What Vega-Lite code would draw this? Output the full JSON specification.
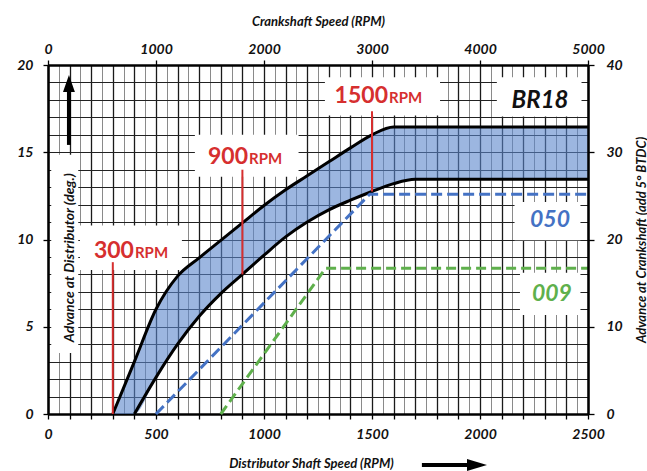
{
  "$schema": "https://vega.github.io/schema/vega-lite/v6.json",
  "width": 540,
  "height": 349,
  "autosize": {"type": "none"},
  "padding": {"left": 48, "top": 65, "right": 59, "bottom": 57},
  "background": "white",
  "config": {"font": "Lato", "view": {"stroke": null}},
  "datasets": {
    "band": [
      {"rpm": 300, "hi": 0, "lo": 0},
      {"rpm": 400, "hi": 3.0, "lo": 0},
      {"rpm": 500, "hi": 6.0, "lo": 2.1},
      {"rpm": 600, "hi": 7.9, "lo": 4.0},
      {"rpm": 700, "hi": 8.95, "lo": 5.6},
      {"rpm": 800, "hi": 9.95, "lo": 6.9},
      {"rpm": 900, "hi": 10.95, "lo": 8.0},
      {"rpm": 1000, "hi": 11.95, "lo": 9.1},
      {"rpm": 1100, "hi": 12.85, "lo": 10.15},
      {"rpm": 1200, "hi": 13.65, "lo": 11.0},
      {"rpm": 1300, "hi": 14.45, "lo": 11.7},
      {"rpm": 1400, "hi": 15.25, "lo": 12.25},
      {"rpm": 1500, "hi": 16.0, "lo": 12.75},
      {"rpm": 1600, "hi": 16.45, "lo": 13.2},
      {"rpm": 1700, "hi": 16.45, "lo": 13.45},
      {"rpm": 2500, "hi": 16.45, "lo": 13.45}
    ],
    "blue": [
      {"rpm": 500, "adv": 0},
      {"rpm": 1490, "adv": 12.6},
      {"rpm": 2500, "adv": 12.6}
    ],
    "green": [
      {"rpm": 800, "adv": 0},
      {"rpm": 1285, "adv": 8.35},
      {"rpm": 2500, "adv": 8.35}
    ],
    "redlines": [
      {"rpm": 300, "from": 0, "to": 8.7},
      {"rpm": 900, "from": 8.0, "to": 14.0},
      {"rpm": 1500, "from": 12.75, "to": 17.35}
    ],
    "boxes": [
      {"name": "ytitle", "x1": 15, "x2": 140, "y1": 3.5, "y2": 14.85},
      {"name": "300", "x1": 148, "x2": 620, "y1": 8.25, "y2": 10.8},
      {"name": "900", "x1": 680, "x2": 1160, "y1": 13.6, "y2": 16.0},
      {"name": "1500", "x1": 1282, "x2": 1815, "y1": 17.1, "y2": 19.3},
      {"name": "BR18", "x1": 2078, "x2": 2470, "y1": 17.05, "y2": 19.3},
      {"name": "050", "x1": 2160, "x2": 2465, "y1": 9.95, "y2": 12.15},
      {"name": "009", "x1": 2185, "x2": 2465, "y1": 5.67, "y2": 8.1}
    ],
    "rpmlabels": [
      {"rpm": 398, "adv": 8.94, "num": "300"},
      {"rpm": 926, "adv": 14.3, "num": "900"},
      {"rpm": 1574, "adv": 17.8, "num": "1500"}
    ]
  },
  "layer": [
    {
      "encoding": {
        "x": {
          "type": "quantitative",
          "scale": {"domain": [0, 2500], "nice": false, "zero": false},
          "axis": {
            "orient": "bottom",
            "values": [0,50,100,150,200,250,300,350,400,450,500,550,600,650,700,750,800,850,900,950,1000,1050,1100,1150,1200,1250,1300,1350,1400,1450,1500,1550,1600,1650,1700,1750,1800,1850,1900,1950,2000,2050,2100,2150,2200,2250,2300,2350,2400,2450,2500],
            "format": "d",
            "grid": true,
            "gridColor": {"condition": {"test": "datum.value % 100 === 0", "value": "#1a1a1a"}, "value": "#8a8a8a"},
            "gridWidth": {"condition": {"test": "datum.value % 100 === 0", "value": 1.3}, "value": 1},
            "gridOpacity": 1,
            "ticks": true,
            "tickOpacity": {"condition": {"test": "datum.value % 100 === 0", "value": 1}, "value": 0},
            "tickColor": "black",
            "tickSize": 5,
            "tickWidth": 1.3,
            "labelExpr": "datum.value % 500 === 0 ? datum.label : ''",
            "labelFont": "Lato",
            "labelFontSize": 14,
            "labelFontStyle": "italic",
            "labelFontWeight": "bold",
            "labelColor": "#111",
            "labelPadding": 8,
            "labelFlush": false,
            "labelOverlap": false,
            "labelBound": false,
            "domain": true,
            "domainColor": "black",
            "domainWidth": 2.5,
            "title": "Distributor Shaft Speed (RPM)",
            "titleFont": "Lato",
            "titleFontSize": 13,
            "titleFontStyle": "italic",
            "titleFontWeight": "bold",
            "titleColor": "#111",
            "titleX": 263,
            "titleAlign": "center",
            "titlePadding": 16
          }
        },
        "y": {
          "type": "quantitative",
          "scale": {"domain": [0, 20], "nice": false, "zero": false},
          "axis": {
            "orient": "left",
            "values": [0,1,2,3,4,5,6,7,8,9,10,11,12,13,14,15,16,17,18,19,20],
            "grid": true,
            "gridColor": "#222222",
            "gridWidth": 1.2,
            "gridOpacity": 1,
            "ticks": true,
            "tickOpacity": {"condition": {"test": "datum.value % 5 === 0", "value": 1}, "value": 0},
            "tickColor": "black",
            "tickSize": 5,
            "tickWidth": 1.3,
            "labelExpr": "datum.value % 5 === 0 ? datum.label : ''",
            "labelFont": "Lato",
            "labelFontSize": 14,
            "labelFontStyle": "italic",
            "labelFontWeight": "bold",
            "labelColor": "#111",
            "labelPadding": 10,
            "labelFlush": false,
            "labelOverlap": false,
            "labelBound": false,
            "domain": true,
            "domainColor": "black",
            "domainWidth": 2.5,
            "title": null
          }
        }
      },
      "layer": [
        {
          "data": {"name": "boxes"},
          "mark": {"type": "rect", "fill": "white", "stroke": null},
          "encoding": {
            "x": {"field": "x1"},
            "x2": {"field": "x2"},
            "y": {"field": "y1"},
            "y2": {"field": "y2"}
          }
        },
        {
          "data": {"name": "band"},
          "mark": {"type": "area", "color": "#5a86cc", "opacity": 0.6, "interpolate": "monotone"},
          "encoding": {
            "x": {"field": "rpm"},
            "y": {"field": "lo"},
            "y2": {"field": "hi"}
          }
        },
        {
          "data": {"name": "band"},
          "mark": {"type": "line", "color": "black", "strokeWidth": 3, "interpolate": "monotone"},
          "encoding": {
            "x": {"field": "rpm"},
            "y": {"field": "hi"}
          }
        },
        {
          "data": {"name": "band"},
          "transform": [{"filter": "datum.rpm >= 400"}],
          "mark": {"type": "line", "color": "black", "strokeWidth": 3, "interpolate": "monotone"},
          "encoding": {
            "x": {"field": "rpm"},
            "y": {"field": "lo"}
          }
        },
        {
          "data": {"name": "blue"},
          "mark": {"type": "line", "color": "#4472c4", "strokeWidth": 3, "strokeDash": [11, 5]},
          "encoding": {
            "x": {"field": "rpm"},
            "y": {"field": "adv"}
          }
        },
        {
          "data": {"name": "green"},
          "mark": {"type": "line", "color": "#5fb04c", "strokeWidth": 3, "strokeDash": [10, 5]},
          "encoding": {
            "x": {"field": "rpm"},
            "y": {"field": "adv"}
          }
        },
        {
          "data": {"name": "redlines"},
          "mark": {"type": "rule", "color": "#d62f2f", "strokeWidth": 2},
          "encoding": {
            "x": {"field": "rpm"},
            "y": {"field": "from"},
            "y2": {"field": "to"}
          }
        },
        {
          "data": {"values": [{"rpm": 97, "y1": 15.42, "y2": 18.6}]},
          "mark": {"type": "rule", "color": "black", "strokeWidth": 4},
          "encoding": {
            "x": {"field": "rpm"},
            "y": {"field": "y1"},
            "y2": {"field": "y2"}
          }
        },
        {
          "data": {"values": [{"rpm": 97, "adv": 18.94}]},
          "mark": {"type": "point", "shape": "M-0.7,1L0,-1L0.7,1Z", "size": 289, "filled": true, "color": "black", "opacity": 1, "strokeWidth": 0},
          "encoding": {
            "x": {"field": "rpm"},
            "y": {"field": "adv"}
          }
        },
        {
          "data": {"values": [{"x1": 1731, "x2": 1965, "adv": -2.92}]},
          "mark": {"type": "rule", "color": "black", "strokeWidth": 4},
          "encoding": {
            "x": {"field": "x1"},
            "x2": {"field": "x2"},
            "y": {"field": "adv"}
          }
        },
        {
          "data": {"values": [{"rpm": 1986, "adv": -2.92}]},
          "mark": {"type": "point", "shape": "M-1,-0.6L1,0L-1,0.6Z", "size": 400, "filled": true, "color": "black", "opacity": 1, "strokeWidth": 0},
          "encoding": {
            "x": {"field": "rpm"},
            "y": {"field": "adv"}
          }
        },
        {
          "data": {"name": "rpmlabels"},
          "mark": {"type": "text", "color": "#d62f2f", "font": "Lato", "fontSize": 23, "fontWeight": "bold", "align": "right", "baseline": "alphabetic"},
          "encoding": {
            "x": {"field": "rpm"},
            "y": {"field": "adv"},
            "text": {"field": "num"}
          }
        },
        {
          "data": {"name": "rpmlabels"},
          "mark": {"type": "text", "color": "#d62f2f", "font": "Lato", "fontSize": 15, "fontWeight": "bold", "align": "left", "baseline": "alphabetic", "dx": 1},
          "encoding": {
            "x": {"field": "rpm"},
            "y": {"field": "adv"},
            "text": {"value": "RPM"}
          }
        },
        {
          "data": {"values": [{"rpm": 2278, "adv": 17.52, "label": "BR18"}]},
          "mark": {"type": "text", "color": "#111", "font": "Lato", "fontSize": 24, "fontWeight": "bold", "fontStyle": "italic", "align": "center", "baseline": "alphabetic"},
          "encoding": {
            "x": {"field": "rpm"},
            "y": {"field": "adv"},
            "text": {"field": "label"}
          }
        },
        {
          "data": {"values": [{"rpm": 2324, "adv": 10.73, "label": "050"}]},
          "mark": {"type": "text", "color": "#4472c4", "font": "Lato", "fontSize": 23, "fontWeight": "bold", "fontStyle": "italic", "align": "center", "baseline": "alphabetic"},
          "encoding": {
            "x": {"field": "rpm"},
            "y": {"field": "adv"},
            "text": {"field": "label"}
          }
        },
        {
          "data": {"values": [{"rpm": 2333, "adv": 6.45, "label": "009"}]},
          "mark": {"type": "text", "color": "#5fb04c", "font": "Lato", "fontSize": 23, "fontWeight": "bold", "fontStyle": "italic", "align": "center", "baseline": "alphabetic"},
          "encoding": {
            "x": {"field": "rpm"},
            "y": {"field": "adv"},
            "text": {"field": "label"}
          }
        },
        {
          "data": {"values": [{"rpm": 104, "adv": 8.95, "label": "Advance at Distributor (deg.)"}]},
          "mark": {"type": "text", "color": "#111", "font": "Lato", "fontSize": 14, "fontWeight": "bold", "fontStyle": "italic", "align": "center", "baseline": "middle", "angle": 270},
          "encoding": {
            "x": {"field": "rpm"},
            "y": {"field": "adv"},
            "text": {"field": "label"}
          }
        }
      ]
    },
    {
      "data": {"values": [{"crank": 0, "adv": 0}, {"crank": 5000, "adv": 40}]},
      "mark": {"type": "point", "opacity": 0},
      "encoding": {
        "x": {
          "field": "crank", "type": "quantitative",
          "scale": {"domain": [0, 5000], "nice": false, "zero": false},
          "axis": {
            "orient": "top",
            "values": [0, 1000, 2000, 3000, 4000, 5000],
            "format": "d",
            "grid": false,
            "tickColor": "black",
            "tickSize": 5,
            "tickWidth": 1.3,
            "labelFont": "Lato",
            "labelFontSize": 14,
            "labelFontStyle": "italic",
            "labelFontWeight": "bold",
            "labelColor": "#111",
            "labelPadding": 4,
            "labelFlush": false,
            "labelOverlap": false,
            "labelBound": false,
            "domain": true,
            "domainColor": "black",
            "domainWidth": 2.5,
            "zindex": 1,
            "title": "Crankshaft Speed (RPM)",
            "titleFont": "Lato",
            "titleFontSize": 13,
            "titleFontStyle": "italic",
            "titleFontWeight": "bold",
            "titleColor": "#111",
            "titlePadding": 14
          }
        },
        "y": {
          "field": "adv", "type": "quantitative",
          "scale": {"domain": [0, 40], "nice": false, "zero": false},
          "axis": {
            "orient": "right",
            "values": [0, 10, 20, 30, 40],
            "grid": false,
            "tickColor": "black",
            "tickSize": 6,
            "tickWidth": 1.3,
            "labelFont": "Lato",
            "labelFontSize": 14,
            "labelFontStyle": "italic",
            "labelFontWeight": "bold",
            "labelColor": "#111",
            "labelPadding": 12,
            "labelFlush": false,
            "labelOverlap": false,
            "labelBound": false,
            "domain": true,
            "domainColor": "black",
            "domainWidth": 2.5,
            "zindex": 1,
            "title": "Advance at Crankshaft (add 5° BTDC)",
            "titleFont": "Lato",
            "titleFontSize": 13,
            "titleFontStyle": "italic",
            "titleFontWeight": "bold",
            "titleColor": "#111",
            "titleAngle": 270,
            "titleX": 53,
            "titleY": 174.5,
            "titleAlign": "center",
            "titleBaseline": "middle"
          }
        }
      }
    }
  ],
  "resolve": {
    "scale": {"x": "independent", "y": "independent"},
    "axis": {"x": "independent", "y": "independent"}
  }
}
